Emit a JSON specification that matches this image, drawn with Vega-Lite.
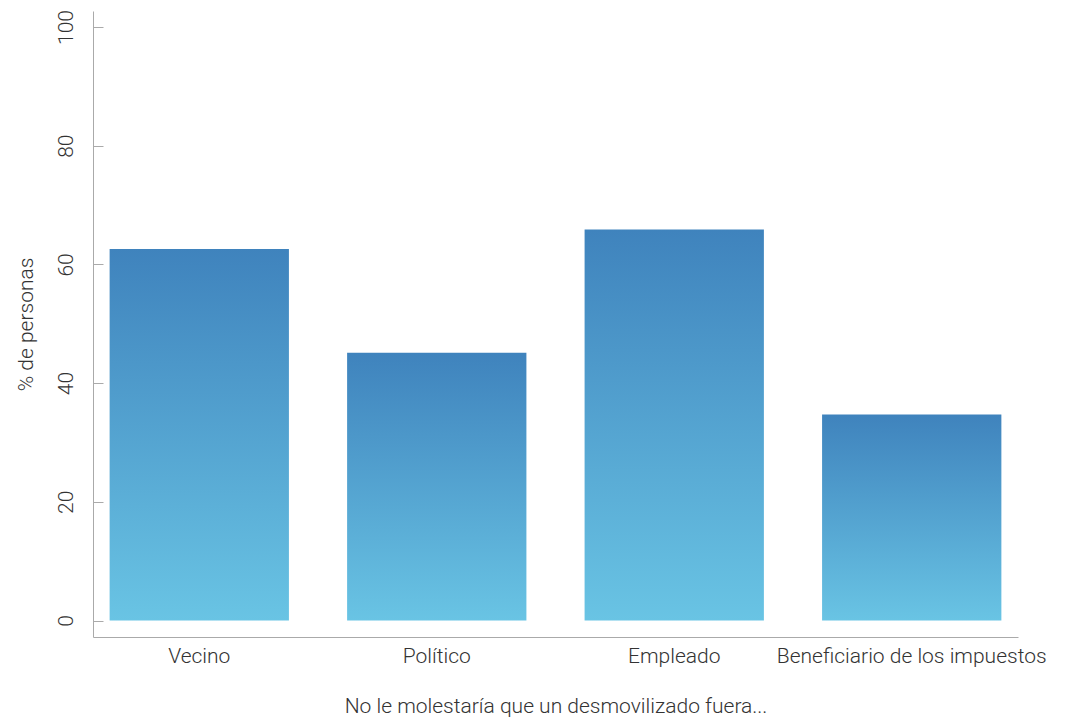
{
  "$schema": "https://vega.github.io/schema/vega-lite/v6.json",
  "autosize": "none",
  "padding": {"left": 93, "top": 11, "right": 50, "bottom": 81},
  "width": 925,
  "height": 626,
  "background": "white",
  "data": {
    "values": [
      {"categoria": "Vecino", "porcentaje": 62.6},
      {"categoria": "Político", "porcentaje": 45.1},
      {"categoria": "Empleado", "porcentaje": 65.9},
      {"categoria": "Beneficiario de los impuestos", "porcentaje": 34.7}
    ]
  },
  "config": {
    "view": {"stroke": null},
    "font": "Roboto",
    "axis": {
      "labelFont": "Roboto",
      "titleFont": "Roboto",
      "labelFontWeight": 300,
      "titleFontWeight": 300,
      "labelFontSize": 21,
      "titleFontSize": 21,
      "labelColor": "#333333",
      "titleColor": "#333333",
      "domainColor": "#aaaaaa",
      "tickColor": "#aaaaaa",
      "labelLimit": 0,
      "grid": false
    }
  },
  "mark": {
    "type": "bar",
    "color": {
      "gradient": "linear",
      "x1": 0, "y1": 1, "x2": 0, "y2": 0,
      "stops": [
        {"offset": 0, "color": "#69c4e4"},
        {"offset": 1, "color": "#3f83bd"}
      ]
    }
  },
  "encoding": {
    "x": {
      "field": "categoria",
      "type": "nominal",
      "sort": null,
      "scale": {"paddingInner": 0.245, "paddingOuter": 0.07},
      "axis": {
        "title": "No le molestaría que un desmovilizado fuera...",
        "labelAngle": 0,
        "ticks": false,
        "labelPadding": 8,
        "titlePadding": 29
      }
    },
    "y": {
      "field": "porcentaje",
      "type": "quantitative",
      "scale": {"domain": [-2.78, 102.7], "nice": false, "zero": false},
      "axis": {
        "title": "% de personas",
        "values": [0, 20, 40, 60, 80, 100],
        "labelAngle": -90,
        "labelAlign": "center",
        "labelBaseline": "bottom",
        "tickSize": -10,
        "labelPadding": 27,
        "titlePadding": 19
      }
    },
    "y2": {"datum": 0}
  }
}
